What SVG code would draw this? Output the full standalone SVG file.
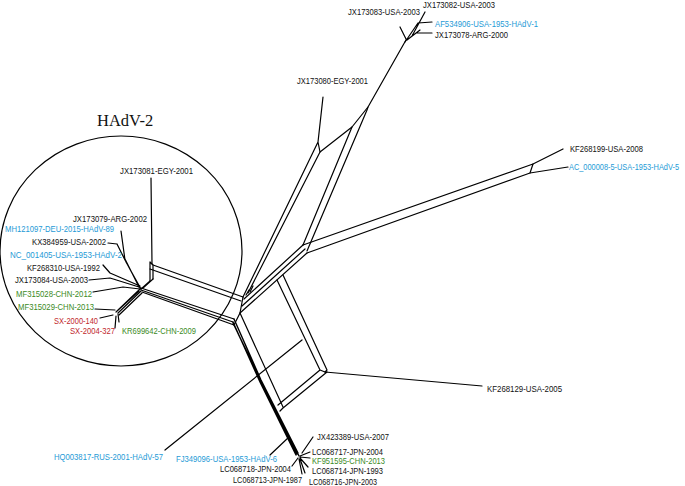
<svg xmlns="http://www.w3.org/2000/svg" width="685" height="486" viewBox="0 0 685 486">
<style>
.e{fill:none;stroke:#000;stroke-width:1.2;stroke-linejoin:round;stroke-linecap:round}
.t{font-family:"Liberation Sans",Arial,sans-serif;font-size:9.3px;fill:#111}
.b{fill:#1e9ad6}
.g{fill:#3a8a1e}
.r{fill:#c1272d}
</style>
<rect width="685" height="486" fill="#fff"/>
<g id="clade-hadv2">
<ellipse cx="121" cy="251" rx="121" ry="115" fill="none" stroke="#000" stroke-width="1.2"/>
<text x="97" y="126" font-family="Liberation Serif,serif" font-size="16.5" fill="#111">HAdV-2</text>
</g>
<g id="connectors" class="e">
<path d="M151,178 L152,264"/>
<path d="M150,262 L150,281 M153,265 L153,279 M150,262 L153,265"/>
<path d="M150,281 L141,289 M153,279 L143,288"/>
<path d="M121,231 L125,260 L140,288 M117,244 L108,243 M117,244 L125,260 M124,257 L139,287 M126,262 L141,289"/>
<path d="M103,265 L110,273 L140,286 M89,280 L110,278 L139,287 M93,292 L123,287 L140,289"/>
<path d="M140,289 L117,311 M141,291 L118,313 M142,293 L119,315 M139,291 L116,312"/>
<path d="M95,309 L115,310 M100,318 L113,315 M115,328 L116,316 M119,322 L118,314"/>
<path d="M153,265 L243,297 M150,269 L241,301"/>
<path d="M141,288 L234,319 M141,290 L233,322 M142,292 L234,325"/>
<path d="M243,297 L240,313 L234,325"/>
<path d="M243,297 L318,142 L320,152 M248,293 L320,152 M323,97 L318,142"/>
<path d="M320,152 L352,127 L368,107 L406,40"/>
<path d="M303,245 L352,127 M307,251 L367,110 L368,107"/>
<path d="M246,295 L249,290 M250,292 L253,286"/>
<path d="M244,299 L303,245 M242,306 L305,249 M240,313 L307,253"/>
<path d="M303,245 L533,164 L530,173 M307,253 L530,173"/>
<path d="M533,164 L563,149 M530,173 L568,167"/>
<path d="M240,313 L283,407 M277,280 L320,370 L325,372 M283,275 L327,370 L325,372 M320,370 L278,405 M327,372 L283,408 L280,411"/>
<path d="M325,372 L482,386"/>
<path d="M302,340 L165,450"/>
<path d="M234,319 L261,380 L298,453 M233,322 L260,382 L296,455 M234,325 L262,384 L299,456 M233,323 L261,381 L297,454" stroke-width="1.4"/>
<path d="M405,42 L418,23 M407,40 L420,30 M400,27 L406,39 M425,12 L412,36 M418,23 L432,22 M417,33 L432,33"/>
<path d="M313,437 L302,453 M310,452 L300,456 M310,458 L300,457 M308,467 L300,458 M305,473 L300,459 M302,474 L299,459 M292,466 L298,458 M270,455 L289,437"/>
</g>
<g id="n-JX173083"><text class="t" x="348" y="15" textLength="72" lengthAdjust="spacingAndGlyphs">JX173083-USA-2003</text></g>
<g id="n-JX173082"><text class="t" x="423" y="8" textLength="72" lengthAdjust="spacingAndGlyphs">JX173082-USA-2003</text></g>
<g id="n-AF534906"><text class="t b" x="435" y="27" textLength="103" lengthAdjust="spacingAndGlyphs">AF534906-USA-1953-HAdV-1</text></g>
<g id="n-JX173078"><text class="t" x="435" y="38" textLength="73" lengthAdjust="spacingAndGlyphs">JX173078-ARG-2000</text></g>
<g id="n-JX173080"><text class="t" x="297" y="84" textLength="71" lengthAdjust="spacingAndGlyphs">JX173080-EGY-2001</text></g>
<g id="n-KF268199"><text class="t" x="570" y="152" textLength="73" lengthAdjust="spacingAndGlyphs">KF268199-USA-2008</text></g>
<g id="n-AC000008"><text class="t b" x="569" y="170" font-size="9" textLength="110" lengthAdjust="spacingAndGlyphs">AC_000008-5-USA-1953-HAdV-5</text></g>
<g id="n-KF268129"><text class="t" x="487" y="392" textLength="75" lengthAdjust="spacingAndGlyphs">KF268129-USA-2005</text></g>
<g id="n-JX423389"><text class="t" x="317" y="440" textLength="72" lengthAdjust="spacingAndGlyphs">JX423389-USA-2007</text></g>
<g id="n-LC068717"><text class="t" x="312" y="455" textLength="71" lengthAdjust="spacingAndGlyphs">LC068717-JPN-2004</text></g>
<g id="n-KF951595"><text class="t g" x="312" y="464" textLength="73" lengthAdjust="spacingAndGlyphs">KF951595-CHN-2013</text></g>
<g id="n-LC068714"><text class="t" x="312" y="474" textLength="71" lengthAdjust="spacingAndGlyphs">LC068714-JPN-1993</text></g>
<g id="n-LC068716"><text class="t" x="309" y="485" textLength="68" lengthAdjust="spacingAndGlyphs">LC068716-JPN-2003</text></g>
<g id="n-LC068713"><text class="t" x="233" y="483" textLength="69" lengthAdjust="spacingAndGlyphs">LC068713-JPN-1987</text></g>
<g id="n-LC068718"><text class="t" x="220" y="472" textLength="71" lengthAdjust="spacingAndGlyphs">LC068718-JPN-2004</text></g>
<g id="n-FJ349096"><text class="t b" x="176" y="462" textLength="101" lengthAdjust="spacingAndGlyphs">FJ349096-USA-1953-HAdV-6</text></g>
<g id="n-HQ003817"><text class="t b" x="54" y="460" textLength="109" lengthAdjust="spacingAndGlyphs">HQ003817-RUS-2001-HAdV-57</text></g>
<g id="n-JX173081"><text class="t" x="120" y="174" textLength="73" lengthAdjust="spacingAndGlyphs">JX173081-EGY-2001</text></g>
<g id="n-JX173079"><text class="t" x="73" y="222" textLength="74" lengthAdjust="spacingAndGlyphs">JX173079-ARG-2002</text></g>
<g id="n-MH121097"><text class="t b" x="5" y="232" textLength="109" lengthAdjust="spacingAndGlyphs">MH121097-DEU-2015-HAdV-89</text></g>
<g id="n-KX384959"><text class="t" x="32" y="245" textLength="74" lengthAdjust="spacingAndGlyphs">KX384959-USA-2002</text></g>
<g id="n-NC001405"><text class="t b" x="10" y="258" textLength="112" lengthAdjust="spacingAndGlyphs">NC_001405-USA-1953-HAdV-2</text></g>
<g id="n-KF268310"><text class="t" x="27" y="271" textLength="73" lengthAdjust="spacingAndGlyphs">KF268310-USA-1992</text></g>
<g id="n-JX173084"><text class="t" x="15" y="283" textLength="73" lengthAdjust="spacingAndGlyphs">JX173084-USA-2003</text></g>
<g id="n-MF315028"><text class="t g" x="16" y="297" textLength="76" lengthAdjust="spacingAndGlyphs">MF315028-CHN-2012</text></g>
<g id="n-MF315029"><text class="t g" x="18" y="310" textLength="76" lengthAdjust="spacingAndGlyphs">MF315029-CHN-2013</text></g>
<g id="n-SX2000"><text class="t r" x="54" y="324" textLength="44" lengthAdjust="spacingAndGlyphs">SX-2000-140</text></g>
<g id="n-SX2004"><text class="t r" x="70" y="334" textLength="45" lengthAdjust="spacingAndGlyphs">SX-2004-327</text></g>
<g id="n-KR699642"><text class="t g" x="122" y="334" textLength="74" lengthAdjust="spacingAndGlyphs">KR699642-CHN-2009</text></g>
</svg>
